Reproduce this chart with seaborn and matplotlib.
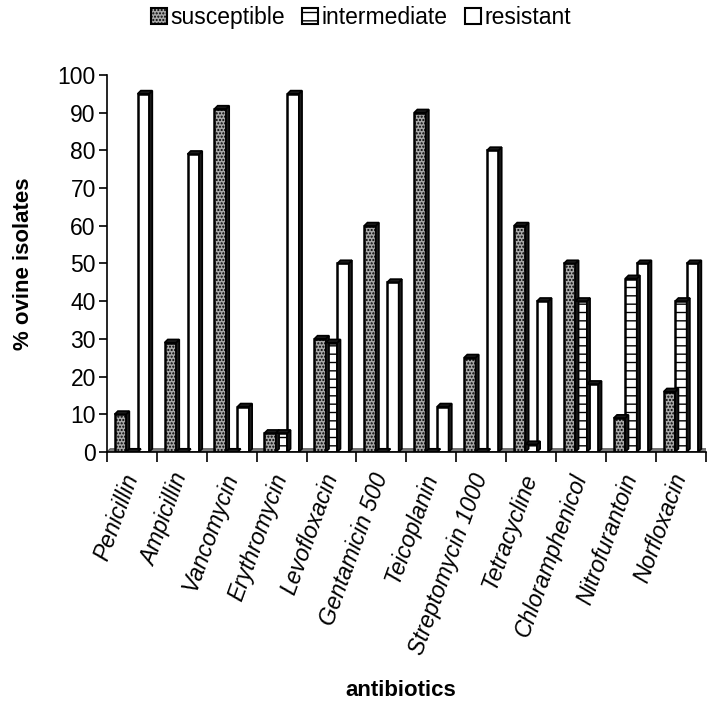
import numpy as np
import pandas as pd
import matplotlib
matplotlib.use("Agg")
import matplotlib.pyplot as plt
from matplotlib.patches import Polygon, Patch
import seaborn as sns

antibiotics = ["Penicillin", "Ampicillin", "Vancomycin", "Erythromycin", "Levofloxacin",
               "Gentamicin 500", "Teicoplanin", "Streptomycin 1000", "Tetracycline",
               "Chloramphenicol", "Nitrofurantoin", "Norfloxacin"]
susceptible = [10, 29, 91, 5, 30, 60, 90, 25, 60, 50, 9, 16]
intermediate = [0, 0, 0, 5, 29, 0, 0, 0, 2, 40, 46, 40]
resistant = [95, 79, 12, 95, 50, 45, 12, 80, 40, 18, 50, 50]
series = ["susceptible", "intermediate", "resistant"]
y_ticks = list(range(0, 101, 10))

df = pd.DataFrame({
    "antibiotic": antibiotics * 3,
    "series": [s for s in series for _ in antibiotics],
    "value": susceptible + intermediate + resistant,
})

sns.set_theme(style="white")
plt.rcParams["font.family"] = ["Liberation Sans", "DejaVu Sans"]
plt.rcParams["hatch.linewidth"] = 1.0
for key in ["text.color", "axes.labelcolor", "xtick.color", "ytick.color"]:
    plt.rcParams[key] = "black"

FS = 16.5

fig = plt.figure(figsize=(7.08, 7.08), dpi=100)
ax = fig.add_axes([0.151, 0.3616, 0.846, 0.5325])

styles = {
    "susceptible": dict(facecolor="#a8a8a8", hatch="....."),
    "intermediate": dict(facecolor="white", hatch="--"),
    "resistant": dict(facecolor="white", hatch=None),
}

sns.barplot(data=df, x="antibiotic", y="value", hue="series", hue_order=series,
            order=antibiotics, width=0.69, gap=0.0, ax=ax, legend=False,
            edgecolor="black", linewidth=1.8, palette=["white"] * 3)

ax.set_xlim(-0.5, len(antibiotics) - 0.5)
ax.set_ylim(0, 100)

# depth of the pseudo-3D faces in data units (about 3 px each way)
dx, dy = 0.065, 0.85

# floor band
floor = Polygon([(-0.5, 0), (len(antibiotics) - 0.5, 0),
                 (len(antibiotics) - 0.5 + dx, dy), (-0.5 + dx, dy)],
                closed=True, facecolor="#808080", edgecolor="#555555", lw=0.8, zorder=0.5)
ax.add_patch(floor)

for container, name in zip(ax.containers, series):
    st = styles[name]
    for bar in container:
        bar.set_facecolor(st["facecolor"])
        if st["hatch"]:
            bar.set_hatch(st["hatch"])
        bar.set_zorder(2)
        x0, y0 = bar.get_x(), bar.get_y()
        w, h = bar.get_width(), bar.get_height()
        side = Polygon([(x0 + w, y0), (x0 + w + dx, y0 + dy), (x0 + w + dx, y0 + h + dy), (x0 + w, y0 + h)],
                       closed=True, facecolor="#1a1a1a", edgecolor="black", lw=1.2, zorder=2)
        top = Polygon([(x0, y0 + h), (x0 + w, y0 + h), (x0 + w + dx, y0 + h + dy), (x0 + dx, y0 + h + dy)],
                      closed=True, facecolor="#1a1a1a", edgecolor="black", lw=1.2, zorder=2)
        ax.add_patch(side)
        ax.add_patch(top)

# axes styling
for s in ["top", "right"]:
    ax.spines[s].set_visible(False)
for s in ["left", "bottom"]:
    ax.spines[s].set_color("black")
    ax.spines[s].set_linewidth(1.2)

ax.set_yticks(y_ticks)
ax.set_yticklabels([str(v) for v in y_ticks], fontsize=FS)
ax.tick_params(axis="y", which="major", direction="out", length=6, width=1.2, color="black", left=True, pad=2)

ax.set_xticks(range(len(antibiotics)))
ax.set_xticklabels(antibiotics, rotation=70, ha="right", va="center", rotation_mode="anchor",
                   fontsize=FS, style="italic")
ax.tick_params(axis="x", which="major", length=0, pad=16)
ax.set_xticks(np.arange(-0.5, len(antibiotics) + 0.5, 1), minor=True)
ax.tick_params(axis="x", which="minor", direction="out", length=7, width=1.2, color="black", bottom=True)

ax.set_xlabel("antibiotics", fontsize=16, fontweight="bold")
ax.xaxis.set_label_coords(0.49, -0.605)
ax.set_ylabel("% ovine isolates", fontsize=16, fontweight="bold")
ax.yaxis.set_label_coords(-0.122, 0.5)

handles = [Patch(facecolor=styles[n]["facecolor"], hatch=styles[n]["hatch"], edgecolor="black", lw=1.5)
           for n in series]
fig.legend(handles, series, loc="center", bbox_to_anchor=(0.51, 0.975), ncol=3,
           frameon=False, fontsize=FS, handlelength=0.7, handleheight=0.7,
           handletextpad=0.15, columnspacing=0.75)

fig.savefig("out.png", dpi=100, facecolor="white")
